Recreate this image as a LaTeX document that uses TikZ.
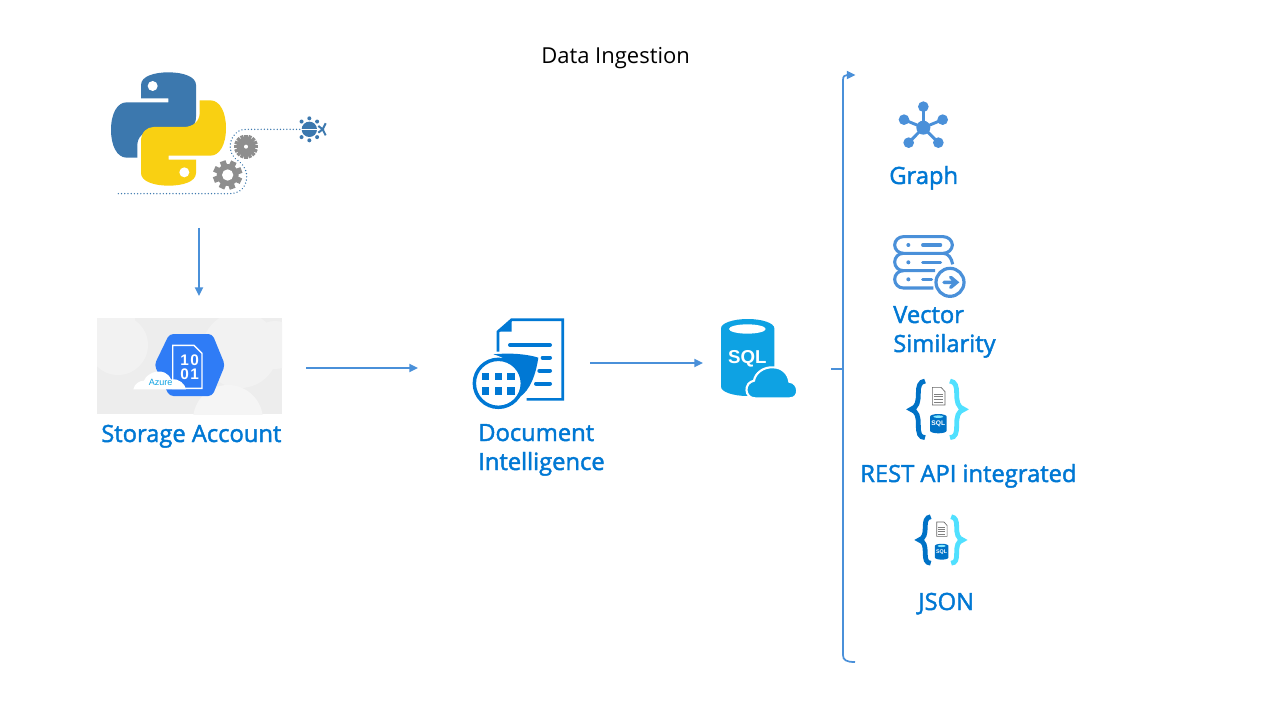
\documentclass[tikz,border=0pt]{standalone}
\usepackage{fontspec}
\setmainfont{Open Sans}
\newfontfamily\lblfont[FakeBold=1.8]{Open Sans}
\newfontfamily\iconfont{Liberation Sans}
\usetikzlibrary{arrows.meta,calc}
\definecolor{linkc}{HTML}{4A90D9}
\definecolor{azt}{HTML}{0078D4}
\definecolor{pyblue}{HTML}{3C78AE}
\definecolor{pyyel}{HTML}{F9D012}
\definecolor{gearc}{HTML}{8E8E8E}
\definecolor{hexc}{HTML}{2F7CF6}
\definecolor{sqlc}{HTML}{0EA2E3}
\definecolor{brl}{HTML}{0072C6}
\definecolor{brr}{HTML}{50E0FF}
\tikzset{
  link/.style={draw=linkc,line width=1.3pt,-{Triangle[length=6.5pt,width=6pt]}},
  lbl/.style={anchor=base west,inner sep=0pt,text=azt,font=\lblfont\fontsize{17.8}{21.75}\selectfont,align=left},
  ghost/.style={inner sep=0pt,outer sep=0pt,draw=none},
}
\newcommand{\bracecode}{%
  \draw[brl,line width=3.6pt] (105,33) .. controls (88,35) and (85,50) .. (85,70) .. controls (85,95) and (82,112) .. (63,118) .. controls (82,124) and (85,140) .. (85,165) .. controls (85,190) and (88,202) .. (105,203);
  \draw[brr,line width=3.6pt] (180,33) .. controls (197,35) and (200,50) .. (200,70) .. controls (200,95) and (203,112) .. (222,118) .. controls (203,124) and (200,140) .. (200,165) .. controls (200,190) and (197,202) .. (180,203);
  \draw[gray!80!black,fill=white,line width=.5pt] (127,52) -- (153,52) -- (165,65) -- (165,105) -- (127,105) -- cycle;
  \foreach \yy in {72,80,88,96} \draw[gray,line width=.5pt] (133,\yy) -- (159,\yy);
  \fill[brl] (120,140) arc[start angle=180,end angle=360,x radius=25,y radius=8] -- (170,182) arc[start angle=0,end angle=180,x radius=25,y radius=8] -- cycle;
  \fill[brr!70!white] (145,140) ellipse[x radius=15,y radius=4];
}
\begin{document}
\begin{tikzpicture}[x=0.75pt,y=-0.75pt]
\useasboundingbox (0,0) rectangle (1280,720);
\fill[white] (0,0) rectangle (1280,720);

% title
\node[anchor=base west,inner sep=0pt,font=\fontsize{16.5}{20}\selectfont] (title) at (541,63.5) {Data Ingestion};

% python logo
\begin{scope}[shift={(90,60)},scale=0.33333]
  \def\pysnake{(153,115) -- (153,75) .. controls (153,48) and (195,37) .. (235,37) .. controls (280,37) and (318,50) .. (318,75) -- (318,170) .. controls (318,198) and (300,213) .. (280,213) -- (190,213) .. controls (160,213) and (142,232) .. (142,255) -- (142,293) -- (110,293) .. controls (80,293) and (63,255) .. (63,210) .. controls (63,160) and (82,127) .. (110,127) -- (235,127) -- (235,115) -- cycle}
  \fill[pyblue] \pysnake;
  \fill[pyyel,rotate around={180:(235.5,207)}] \pysnake;
  \fill[white] (188,78) circle (15);
  \fill[white] (283,337) circle (15);
  \draw[pyblue,line width=1.1pt,line cap=round,dash pattern=on 0.01pt off 2.4pt] (85,401) -- (420,401) .. controls (455,400) and (472,375) .. (470,345) .. controls (468,320) and (450,305) .. (435,295) .. controls (420,280) and (415,255) .. (428,232) .. controls (438,215) and (450,208) .. (470,208) -- (630,208);
  % gears
  \foreach \a in {0,22.5,...,337.5} \fill[gearc,rotate around={\a:(468,260)}] (463,224) rectangle (473,240);
  \fill[gearc] (468,260) circle (28);
  \fill[white] (468,260) circle (6);
  \foreach \a in {0,45,...,315} \fill[gearc,rotate around={\a+20:(413,345)}] (404,301) rectangle (422,325);
  \fill[gearc] (413,345) circle (33);
  \fill[white] (413,345) circle (17);
  % bug
  \fill[pyblue] (658,208) circle (23);
  \draw[white,line width=1pt] (634,208) -- (682,208);
  \foreach \a in {-135,-90,-45,45,90,135} \fill[pyblue] ($(658,208)+(\a:33)$) circle (6);
  \draw[pyblue,line width=1.5pt] (685,198) -- (698,208) -- (685,218) (698,208) -- (707,190) (698,208) -- (707,226);
\end{scope}
\node[ghost,minimum width=120pt,minimum height=117pt] (python) at (199,150) {};

% storage account
\begin{scope}
  \clip (97,318) rectangle (282,414);
  \fill[black!7] (97,318) rectangle (282,414);
  \fill[black!5] (97,318) rectangle (135,360);
  \fill[black!5] (118,345) circle (30);
  \fill[black!5] (240,350) circle (38);
  \fill[black!4] (228,420) circle (35);
  \fill[black!5] (275,345) circle (24);
\end{scope}
\begin{scope}[shift={(90,310)},scale=0.33333]
  \fill[hexc,rounded corners=3pt] (238,72) -- (367,72) -- (405,165) -- (367,258) -- (238,258) -- (193,165) -- cycle;
  \draw[white,line width=1pt] (248,235) -- (248,106) -- (312,106) -- (336,130) -- (336,235) -- cycle;
  \node[ghost,text=white,font=\iconfont\bfseries\fontsize{11.5}{14}\selectfont] (ten) at (299,150) {1\kern1pt 0};
  \node[ghost,text=white,font=\iconfont\bfseries\fontsize{11.5}{14}\selectfont] (one) at (299,193) {0\kern1pt 1};
  \fill[white] (130,238) .. controls (133,222) and (148,212) .. (162,212) .. controls (172,185) and (225,168) .. (243,208) .. controls (268,205) and (285,222) .. (288,238) -- cycle;
  \node[ghost,text=sqlc,font=\iconfont\fontsize{6.8}{8}\selectfont] (azure) at (212,216) {Azure};
\end{scope}
\node[ghost,minimum width=160.5pt,minimum height=108pt] (storage) at (199,368) {};
\node[lbl] (storagelbl) at (101,442) {Storage Account};

% document intelligence
\begin{scope}[shift={(460,310)},scale=0.33333]
  \fill[azt] (112,65) -- (155,27) -- (155,65) -- cycle;
  \draw[azt,line width=2pt] (114,125) -- (114,65) -- (155,29) -- (308,29) -- (308,268) -- (200,268);
  \draw[azt,line width=3pt,line cap=round] (150,105) -- (270,105);
  \draw[azt,line width=3pt,line cap=round] (248,143) -- (270,143) (238,182) -- (270,182) (228,221) -- (270,221);
  \fill[white] (115,220) circle (82);
  \fill[azt] (100,133) .. controls (150,128) and (200,132) .. (235,143) .. controls (228,190) and (212,240) .. (178,262) .. controls (200,220) and (170,150) .. (100,133) -- cycle;
  \draw[azt,line width=2.6pt,fill=white] (115,220) circle (72);
  \foreach \xx in {77,115,153} \foreach \yy in {200,243} \fill[azt] (\xx-11,\yy-11) rectangle (\xx+11,\yy+11);
\end{scope}
\node[ghost,minimum width=129pt,minimum height=60pt] (docint) at (504,368) {};
\node[lbl] (doclbl) at (478,470) {Document\\Intelligence};

% sql
\begin{scope}[shift={(710,310)},scale=0.33333]
  \fill[sqlc] (33,55) arc[start angle=180,end angle=360,x radius=80,y radius=28] -- (193,230) arc[start angle=0,end angle=180,x radius=80,y radius=28] -- cycle;
  \fill[white] (112,57) ellipse[x radius=55,y radius=14];
  \node[ghost,text=white,font=\iconfont\bfseries\fontsize{14}{17}\selectfont] (sqltxt) at (112,146) {SQL};
  \draw[white,line width=1.6pt,fill=sqlc] (135,265) .. controls (103,265) and (100,218) .. (132,212) .. controls (135,190) and (160,170) .. (190,172) .. controls (215,172) and (235,190) .. (238,215) .. controls (268,218) and (270,265) .. (240,265) -- cycle;
\end{scope}
\node[ghost,minimum width=96pt,minimum height=60pt] (sqlicon) at (767,363) {};

% bracket
\coordinate (brtop) at (855.5,75);
\coordinate (brbot) at (855,662);
\coordinate (brmid) at (843,369);
\draw[link] (brmid) -- (843,80) .. controls (843,76) and (845,75) .. (brtop);
\draw[linkc,line width=1.3pt] (brmid) -- (843,655) .. controls (843,660) and (846,662) .. (brbot);
\draw[linkc,line width=1.3pt] (sqlicon.east |- brmid) -- (brmid);

% graph
\begin{scope}[shift={(880,90)},scale=0.33333]
  \foreach \px/\py in {130/50,72/89,188/89,86/158,175/158} {
    \draw[linkc,line width=2.2pt] (130,113) -- (\px,\py);
    \fill[linkc] (\px,\py) circle (16);
  }
  \fill[linkc] (130,113) circle (21);
\end{scope}
\node[lbl] (graphlbl) at (889,184) {Graph};

% vector similarity
\begin{scope}[shift={(880,225)},scale=0.33333]
  \draw[linkc,line width=2.3pt] (70,35) -- (190,35) .. controls (205,35) and (217,47) .. (217,60) .. controls (217,73) and (205,85) .. (190,85) -- (70,85) .. controls (55,85) and (44,73) .. (44,60) .. controls (44,47) and (55,35) .. (70,35) -- cycle;
  \draw[linkc,line width=2.3pt] (70,85) .. controls (55,85) and (44,97) .. (44,111) .. controls (44,125) and (55,137) .. (70,137) -- (165,137);
  \draw[linkc,line width=2.3pt] (190,85) .. controls (205,85) and (215,100) .. (218,118);
  \draw[linkc,line width=2.3pt] (70,137) .. controls (55,137) and (44,149) .. (44,163) .. controls (44,177) and (55,189) .. (70,189) -- (160,189);
  \fill[linkc] (85,60) circle (6) (85,112) circle (6) (85,163) circle (6);
  \draw[linkc,line width=2.3pt,line cap=round] (128,60) -- (182,60) (128,112) -- (182,112) (128,163) -- (155,163);
  \draw[linkc,line width=2.4pt,fill=white] (210,172) circle (42);
  \draw[linkc,line width=2.6pt,line cap=round] (192,172) -- (228,172) (212,157) -- (230,172) -- (212,187);
\end{scope}
\node[lbl] (veclbl) at (893,352) {Vector\\Similarity};

% rest api
\begin{scope}[shift={(890,370)},scale=0.33333]
  \bracecode
  \node[ghost,text=white,font=\iconfont\bfseries\fontsize{5}{6}\selectfont] (sqla) at (145,162) {SQL};
\end{scope}
\node[lbl] (restlbl) at (860,482) {REST API integrated};

% json
\begin{scope}[shift={(902,507.7)},scale=0.27333]
  \bracecode
  \node[ghost,text=white,font=\iconfont\bfseries\fontsize{4}{5}\selectfont] (sqlb) at (145,162) {SQL};
\end{scope}
\node[lbl] (jsonlbl) at (918,610) {JSON};

% connectors
\draw[link] (python) -- (storage);
\draw[link] (storage) -- (docint);
\draw[link] (docint.east |- sqlicon.west) -- (sqlicon.west);
\end{tikzpicture}
\end{document}
